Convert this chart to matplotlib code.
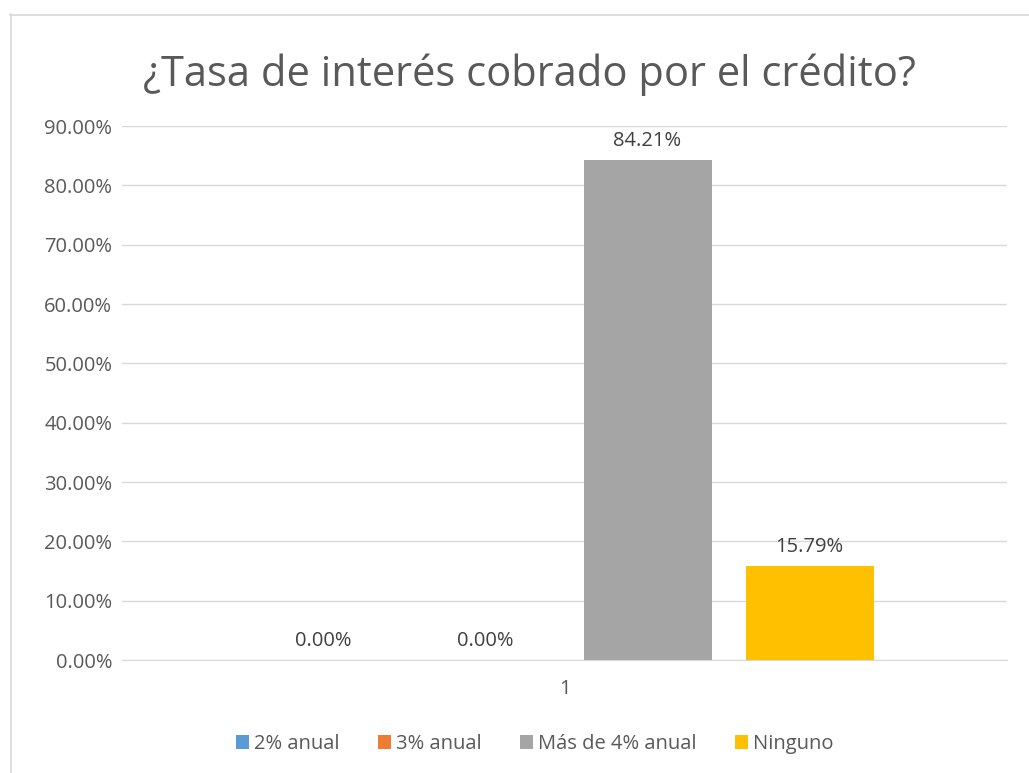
import matplotlib.pyplot as plt
import matplotlib.lines as mlines
import numpy as np

series = ["2% anual", "3% anual", "Más de 4% anual", "Ninguno"]
values = [0.0, 0.0, 0.8421, 0.1579]
colors = ["#5B9BD5", "#ED7D31", "#A5A5A5", "#FFC000"]
category = ["1"]
yticks = [0.0, 0.1, 0.2, 0.3, 0.4, 0.5, 0.6, 0.7, 0.8, 0.9]

txt = "#595959"
plt.rcParams['font.family'] = ['Open Sans', 'DejaVu Sans']

fig = plt.figure(figsize=(10.29, 7.73), dpi=100)
W, H = 1029, 773
ax = fig.add_axes([122/W, 1-660/H, (1007-122)/W, (660-126)/H])

# chart border (cut off at right and bottom)
fig.add_artist(mlines.Line2D([10.5/W, 10.5/W], [0, 1-14/H], color="#D9D9D9", lw=1.2))
fig.add_artist(mlines.Line2D([10/W, 1], [1-14.5/H, 1-14.5/H], color="#D9D9D9", lw=1.2))

bw = 128/885
step = 162/885
shift = 2/885
for i, (s, v, c) in enumerate(zip(series, values, colors)):
    x = (i - 1.5) * step + shift
    ax.bar(x, v, width=bw, color=c, label=s, zorder=3)
    ax.text(x, v + 0.016, "{:.2f}%".format(v*100), ha="center", va="bottom",
            fontsize=14.5, color="#404040")

ax.set_xlim(-0.5, 0.5)
ax.set_ylim(0, 0.9)
ax.set_yticks(yticks)
ax.set_yticklabels(["{:.2f}%".format(t*100) for t in yticks], fontsize=14.5, color=txt)
ax.set_xticks([0])
ax.set_xticklabels(category, fontsize=14.5, color=txt)
ax.tick_params(length=0, pad=7)
ax.tick_params(axis="x", pad=14)
ax.grid(axis="y", color="#D9D9D9", lw=1, zorder=0)
for sp in ["top", "right", "left"]:
    ax.spines[sp].set_visible(False)
ax.spines["bottom"].set_color("#D9D9D9")

fig.text(529/W, 1-75/H, "¿Tasa de interés cobrado por el crédito?", ha="center", va="center",
         fontsize=30, color=txt)

leg = fig.legend(loc="center", bbox_to_anchor=(535/W, 1-744/H), ncol=4, frameon=False,
                 fontsize=14.5, handlelength=0.65, handleheight=0.65, handletextpad=0.25,
                 columnspacing=1.9)
for t in leg.get_texts():
    t.set_color(txt)

fig.savefig("out.png", dpi=100)
